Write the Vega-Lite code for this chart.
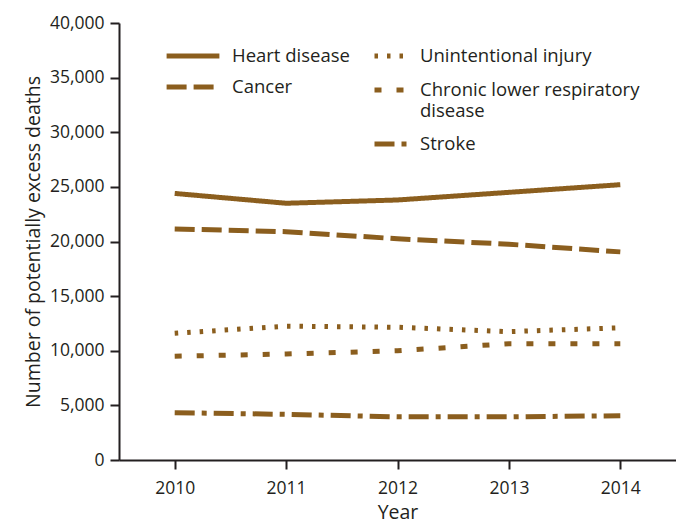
{
  "$schema": "https://vega.github.io/schema/vega-lite/v6.json",
  "width": 557,
  "height": 437,
  "autosize": {"type": "none"},
  "padding": {"left": 119, "top": 23, "right": 0, "bottom": 64},
  "background": "white",
  "config": {
    "view": {"stroke": null},
    "font": "Open Sans",
    "axis": {
      "domainColor": "#231f20", "domainWidth": 2, "tickColor": "#231f20", "tickWidth": 2, "tickSize": 9,
      "labelColor": "#231f20", "labelFont": "Open Sans", "labelFontSize": 17.5, "grid": false,
      "titleColor": "#231f20", "titleFont": "Open Sans", "titleFontSize": 19.5, "titleFontWeight": "normal"
    },
    "legend": {
      "labelFont": "Open Sans", "labelFontSize": 18.5, "labelColor": "#231f20",
      "symbolType": "stroke", "symbolStrokeWidth": 5, "symbolStrokeColor": "#8b5e1e", "title": null,
      "labelLimit": 400, "padding": 0
    }
  },
  "data": {
    "values": [
      {"year": 2010, "cause": "Heart disease", "deaths": 24400},
      {"year": 2011, "cause": "Heart disease", "deaths": 23500},
      {"year": 2012, "cause": "Heart disease", "deaths": 23800},
      {"year": 2013, "cause": "Heart disease", "deaths": 24500},
      {"year": 2014, "cause": "Heart disease", "deaths": 25200},
      {"year": 2010, "cause": "Cancer", "deaths": 21150},
      {"year": 2011, "cause": "Cancer", "deaths": 20900},
      {"year": 2012, "cause": "Cancer", "deaths": 20250},
      {"year": 2013, "cause": "Cancer", "deaths": 19750},
      {"year": 2014, "cause": "Cancer", "deaths": 19050},
      {"year": 2010, "cause": "Unintentional injury", "deaths": 11600},
      {"year": 2011, "cause": "Unintentional injury", "deaths": 12250},
      {"year": 2012, "cause": "Unintentional injury", "deaths": 12150},
      {"year": 2013, "cause": "Unintentional injury", "deaths": 11750},
      {"year": 2014, "cause": "Unintentional injury", "deaths": 12100},
      {"year": 2010, "cause": "Chronic lower respiratory disease", "deaths": 9500},
      {"year": 2011, "cause": "Chronic lower respiratory disease", "deaths": 9700},
      {"year": 2012, "cause": "Chronic lower respiratory disease", "deaths": 10000},
      {"year": 2013, "cause": "Chronic lower respiratory disease", "deaths": 10650},
      {"year": 2014, "cause": "Chronic lower respiratory disease", "deaths": 10650},
      {"year": 2010, "cause": "Stroke", "deaths": 4330},
      {"year": 2011, "cause": "Stroke", "deaths": 4180},
      {"year": 2012, "cause": "Stroke", "deaths": 3950},
      {"year": 2013, "cause": "Stroke", "deaths": 3950},
      {"year": 2014, "cause": "Stroke", "deaths": 4050}
    ]
  },
  "encoding": {
    "x": {
      "field": "year", "type": "ordinal",
      "scale": {"type": "point", "padding": 0.5},
      "axis": {"title": "Year", "labelAngle": 0, "labelPadding": 10, "titlePadding": 7}
    },
    "y": {
      "field": "deaths", "type": "quantitative",
      "scale": {"domain": [0, 40000], "nice": false},
      "axis": {"title": "Number of potentially excess deaths", "format": ",.0f", "values": [0,5000,10000,15000,20000,25000,30000,35000,40000], "labelPadding": 6, "titlePadding": 6}
    }
  },
  "layer": [
    {
      "transform": [{"filter": "datum.cause === 'Heart disease' || datum.cause === 'Cancer'"}],
      "mark": {"type": "line", "color": "#8b5e1e", "strokeWidth": 5, "strokeCap": "butt"},
      "encoding": {
        "strokeDash": {
          "field": "cause", "type": "nominal",
          "scale": {"domain": ["Heart disease", "Cancer"], "range": [[1, 0], [20, 7]]},
          "legend": {"orient": "none", "legendX": 55, "legendY": 14, "symbolSize": 1089, "symbolType": "M-1.6,0H1.6", "labelOffset": 20, "rowPadding": 2}
        }
      }
    },
    {
      "transform": [{"filter": "datum.cause !== 'Heart disease' && datum.cause !== 'Cancer'"}],
      "mark": {"type": "line", "color": "#8b5e1e", "strokeWidth": 5, "strokeCap": "butt"},
      "encoding": {
        "strokeDash": {
          "field": "cause", "type": "nominal",
          "scale": {"domain": ["Unintentional injury", "Chronic lower respiratory disease", "Stroke"], "range": [[3.5, 9], [7, 15], [20, 7, 5, 7]]},
          "legend": {"orient": "none", "legendX": 253, "legendY": 14, "symbolSize": 1089, "labelOffset": 10, "rowPadding": 5,
            "labelExpr": "datum.label === 'Chronic lower respiratory disease' ? ['Chronic lower respiratory', 'disease'] : datum.label"}
        }
      }
    }
  ],
  "resolve": {"scale": {"strokeDash": "independent"}}
}
